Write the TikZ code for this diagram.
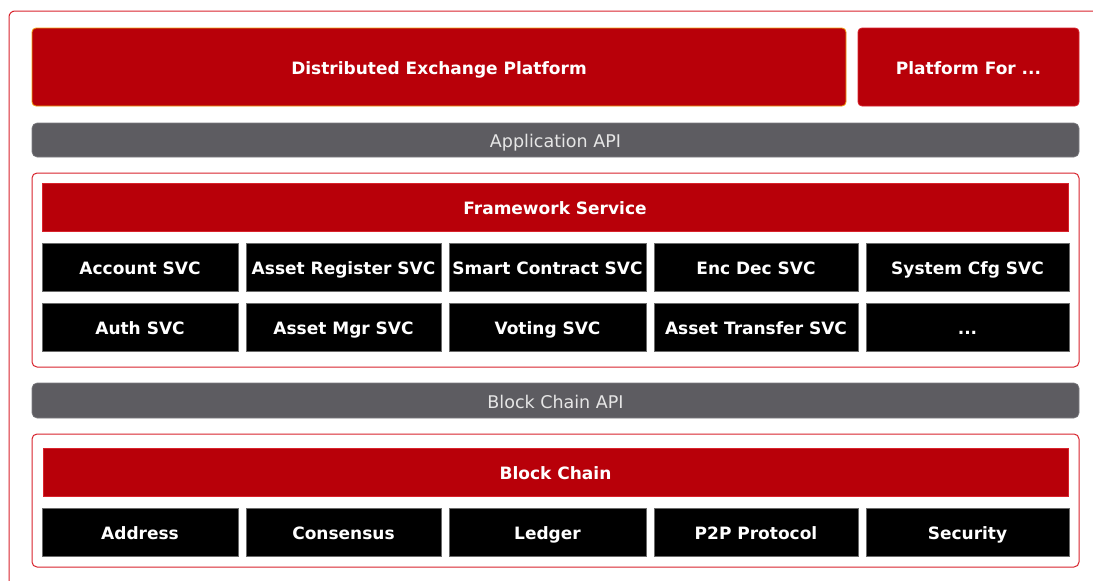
\documentclass[tikz,border=0pt]{standalone}
\usepackage{fontspec}
\setmainfont{DejaVu Sans}
\definecolor{bred}{HTML}{B80009}
\definecolor{redline}{HTML}{D8232C}
\definecolor{orangeline}{HTML}{F0A010}
\definecolor{bargray}{HTML}{5D5C61}
\definecolor{apitext}{HTML}{E6E6E6}
\definecolor{blkline}{HTML}{6A6A6A}
\tikzset{
  every node/.style={inner sep=0pt, outer sep=0pt, text height=16pt, text depth=1pt},
  redbox/.style={rectangle, rounded corners=4pt, fill=bred, draw=redline, line width=0.8pt, text=white, font=\bfseries\fontsize{17}{20}\selectfont},
  apibar/.style={rectangle, rounded corners=5pt, fill=bargray, draw=bargray!80!white, line width=0.6pt, text=apitext, font=\fontsize{17.5}{20}\selectfont},
  container/.style={rectangle, rounded corners=5pt, draw=redline, line width=1pt, fill=white},
  headbar/.style={rectangle, fill=bred, draw=redline, line width=0.8pt, text=white, font=\bfseries\fontsize{17}{20}\selectfont},
  svcbox/.style={rectangle, fill=black, draw=blkline, line width=0.5pt, text=white, minimum height=48pt, font=\bfseries\fontsize{17}{20}\selectfont},
}
\begin{document}
\begin{tikzpicture}[x=1pt,y=-1pt]
\useasboundingbox (0,0) rectangle (1093,581);
% outer frame (cut off at right and bottom)
\draw[redline, line width=1pt, rounded corners=6pt] (9,600) -- (9,11) -- (1110,11);
% top platforms
\node[redbox, draw=orangeline, minimum width=814pt, minimum height=78pt] (dep) at (439,67) {Distributed Exchange Platform};
\node[redbox, minimum width=221pt, minimum height=78pt] (pf) at (968.5,67) {Platform For ...};
% application API
\node[apibar, minimum width=1047pt, minimum height=34pt] (appapi) at (555.5,140) {Application API};
% framework container
\node[container, minimum width=1047pt, minimum height=194pt] (fwc) at (555.5,270) {};
\node[headbar, minimum width=1026pt, minimum height=48pt] (fwbar) at (555,207) {Framework Service};
\node[svcbox, minimum width=196pt] (acc) at (140,267) {Account SVC};
\node[svcbox, minimum width=195pt] (areg) at (343.5,267) {Asset Register SVC};
\node[svcbox, minimum width=197pt] (sc) at (547.5,267) {Smart Contract SVC};
\node[svcbox, minimum width=204pt] (enc) at (756,267) {Enc Dec SVC};
\node[svcbox, minimum width=203pt] (cfg) at (967.5,267) {System Cfg SVC};
\node[svcbox, minimum width=196pt] (auth) at (140,327) {Auth SVC};
\node[svcbox, minimum width=195pt] (amgr) at (343.5,327) {Asset Mgr SVC};
\node[svcbox, minimum width=197pt] (vote) at (547.5,327) {Voting SVC};
\node[svcbox, minimum width=204pt] (atr) at (756,327) {Asset Transfer SVC};
\node[svcbox, minimum width=203pt] (more) at (967.5,327) {...};
% block chain API
\node[apibar, minimum width=1047pt, minimum height=35pt] (bcapi) at (555.5,400.5) {Block Chain API};
% block chain container
\node[container, minimum width=1047pt, minimum height=133pt] (bcc) at (555.5,500.5) {};
\node[headbar, minimum width=1025pt, minimum height=48pt] (bcbar) at (555.5,472) {Block Chain};
\node[svcbox, minimum width=196pt] (addr) at (140,532) {Address};
\node[svcbox, minimum width=195pt] (cons) at (343.5,532) {Consensus};
\node[svcbox, minimum width=197pt] (led) at (547.5,532) {Ledger};
\node[svcbox, minimum width=204pt] (p2p) at (756,532) {P2P Protocol};
\node[svcbox, minimum width=203pt] (sec) at (967.5,532) {Security};
\end{tikzpicture}
\end{document}
